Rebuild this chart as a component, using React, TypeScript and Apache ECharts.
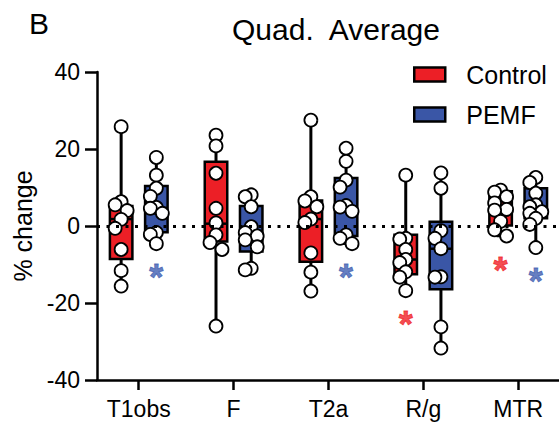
import React, { useEffect, useRef } from 'react';
import * as echarts from 'echarts';

// ---------- data ----------
const categories = ['T1obs', 'F', 'T2a', 'R/g', 'MTR'];
const yTickValues = [-40, -20, 0, 20, 40];

// individual % change values, Control
const controlT1obs = [25.8, 6.3, 5.5, 4.0, 1.7, -0.6, -6.1, -11.6, -15.6];
const controlF = [23.6, 20.8, 13.7, 4.6, 0.8, -2.3, -4.3, -6.1, -26.0];
const controlT2a = [27.5, 7.6, 6.5, 5.0, 1.8, 0.9, -7.0, -12.0, -16.9];
const controlRg = [13.2, -3.2, -3.4, -6.1, -8.7, -9.5, -11.9, -13.3, -16.8];
const controlMTR = [9.3, 8.8, 7.6, 6.0, 4.3, 4.1, 1.2, -1.0, -2.6];

// individual % change values, PEMF
const pemfT1obs = [17.8, 13.2, 9.8, 7.7, 4.8, 4.6, 3.3, -1.7, -2.2, -4.6];
const pemfF = [8.1, 7.6, 5.0, -0.2, -1.7, -2.6, -3.6, -5.4, -11.0, -11.4];
const pemfT2a = [20.2, 16.8, 11.9, 10.1, 5.3, 4.9, 3.8, -2.3, -3.2, -4.6];
const pemfRg = [13.8, 9.8, -1.2, -3.2, -5.9, -13.2, -13.3, -26.2, -31.7];
const pemfMTR = [12.6, 11.3, 8.5, 5.5, 5.0, 3.7, 3.3, 2.0, 0.4, -5.6];

// box summaries (min, Q1, median, Q3, max) per category
const controlMin = [-15.6, -26.0, -16.9, -16.8, -2.6];
const controlQ1 = [-8.6, -4.0, -9.3, -12.5, 0.1];
const controlMedian = [1.8, 0.6, 1.8, -8.7, 4.3];
const controlQ3 = [5.2, 16.7, 6.6, -2.3, 9.0];
const controlMax = [25.8, 23.6, 27.5, 13.2, 9.3];

const pemfMin = [-4.6, -11.4, -4.6, -31.7, -5.6];
const pemfQ1 = [-1.6, -6.6, -2.6, -16.4, 2.0];
const pemfMedian = [4.7, -2.1, 4.4, -5.9, 4.3];
const pemfQ3 = [10.4, 5.2, 12.5, 1.1, 9.8];
const pemfMax = [17.8, 8.1, 20.2, 13.8, 12.6];

// significance markers (*)
const controlSignificant = [false, false, false, true, true];
const pemfSignificant = [true, false, true, false, true];

const controlPoints = [controlT1obs, controlF, controlT2a, controlRg, controlMTR];
const pemfPoints = [pemfT1obs, pemfF, pemfT2a, pemfRg, pemfMTR];

// ---------- layout / style ----------
const W = 559;
const H = 425;
const GRID = { left: 97, right: 0, top: 72, bottom: 45 };
const X_MIN = -0.44;
const X_MAX = 4.43;
const Y_MIN = -40;
const Y_MAX = 40;
const PX_PER_X = (W - GRID.left - GRID.right) / (X_MAX - X_MIN);
const PX_PER_Y = (H - GRID.top - GRID.bottom) / (Y_MAX - Y_MIN);
const GROUP_OFFSET = 17.6 / PX_PER_X;
const BOX_W = 22.5 / PX_PER_X;
const DOT = 13;
const RED = '#ec1f26';
const BLUE = '#3a56a6';
const RED_STAR = '#f01c24';
const BLUE_STAR = '#3d5cb0';
const FONT = '"Liberation Sans", Arial, sans-serif';

function swarm(values: number[], center: number): number[][] {
  const order = values.map((_, i) => i).sort((a, b) => values[b] - values[a]);
  const placed: { x: number; y: number }[] = [];
  const out: number[][] = [];
  const cands = [0, -6, 6];
  for (const idx of order) {
    const y = values[idx] * PX_PER_Y;
    let best = 0;
    let bestD = -1;
    for (const x of cands) {
      let minD = Infinity;
      for (const p of placed) minD = Math.min(minD, Math.hypot(p.x - x, p.y - y));
      if (minD >= 9.5) { best = x; break; }
      if (minD > bestD) { bestD = minD; best = x; }
    }
    placed.push({ x: best, y });
    out.push([center + best / PX_PER_X, values[idx]]);
  }
  return out;
}

function boxSeries(name: string, color: string, offset: number,
  mn: number[], q1: number[], md: number[], q3: number[], mx: number[]) {
  return {
    name,
    type: 'custom',
    z: 2,
    itemStyle: { color },
    encode: { x: 0, y: [1, 2, 3, 4, 5] },
    data: categories.map((_, i) => [i, mn[i], q1[i], md[i], q3[i], mx[i]]),
    renderItem: (params: any, api: any) => {
      const x = api.value(0) + offset;
      const pMin = api.coord([x, api.value(1)]);
      const pQ1 = api.coord([x, api.value(2)]);
      const pMed = api.coord([x, api.value(3)]);
      const pQ3 = api.coord([x, api.value(4)]);
      const pMax = api.coord([x, api.value(5)]);
      const w = api.size([BOX_W, 0])[0];
      const cap = 4;
      return {
        type: 'group',
        children: [
          { type: 'line', shape: { x1: pMin[0], y1: pMin[1], x2: pMax[0], y2: pMax[1] }, style: { stroke: '#000', lineWidth: 3 } },
          { type: 'line', shape: { x1: pMin[0] - cap, y1: pMin[1], x2: pMin[0] + cap, y2: pMin[1] }, style: { stroke: '#000', lineWidth: 2.5 } },
          { type: 'line', shape: { x1: pMax[0] - cap, y1: pMax[1], x2: pMax[0] + cap, y2: pMax[1] }, style: { stroke: '#000', lineWidth: 2.5 } },
          { type: 'rect', shape: { x: pQ3[0] - w / 2, y: pQ3[1], width: w, height: pQ1[1] - pQ3[1] }, style: { fill: color, stroke: '#000', lineWidth: 2.5 } },
          { type: 'line', shape: { x1: pMed[0] - w / 2, y1: pMed[1], x2: pMed[0] + w / 2, y2: pMed[1] }, style: { stroke: '#000', lineWidth: 2.5 } },
        ],
      };
    },
  };
}

function starSeries(name: string, color: string, offset: number, sig: boolean[], mn: number[]) {
  const data: number[][] = [];
  sig.forEach((s, i) => { if (s) data.push([i + offset, mn[i]]); });
  return {
    name,
    type: 'scatter',
    z: 4,
    symbol: 'circle',
    symbolSize: 2,
    itemStyle: { color: 'rgba(0,0,0,0)' },
    data,
    label: {
      show: true,
      position: 'inside',
      formatter: '*',
      offset: [0, 34],
      color,
      textBorderColor: color,
      textBorderWidth: 0.8,
      fontSize: 36,
      fontWeight: 'bold',
      fontFamily: FONT,
    },
  };
}

function dotSeries(name: string, offset: number, pts: number[][]) {
  const data: number[][] = [];
  pts.forEach((vals, i) => { swarm(vals, i + offset).forEach((p) => data.push(p)); });
  return {
    name,
    type: 'scatter',
    z: 3,
    symbol: 'circle',
    symbolSize: DOT,
    itemStyle: { color: '#fff', borderColor: '#000', borderWidth: 1.8, opacity: 1 },
    data,
  };
}

export default function App() {
  const ref = useRef<HTMLDivElement>(null);
  useEffect(() => {
    if (!ref.current) return;
    const chart = echarts.init(ref.current, undefined, { renderer: 'svg' });
    const option: any = {
      animation: false,
      backgroundColor: '#fff',
      textStyle: { fontFamily: FONT },
      title: [
        { text: 'B', left: 24, top: 3, textStyle: { fontSize: 30, fontWeight: 'normal', color: '#000', fontFamily: FONT } },
        { text: 'Quad.  Average', left: 227, top: 9, textStyle: { fontSize: 30, fontWeight: 'normal', color: '#000', fontFamily: FONT } },
      ],
      legend: {
        orient: 'vertical',
        left: 408,
        top: 57,
        itemGap: 15,
        itemWidth: 31,
        itemHeight: 14,
        icon: 'rect',
        data: ['Control', 'PEMF'],
        itemStyle: { borderColor: '#000', borderWidth: 2.5 },
        textStyle: { fontSize: 25, color: '#000', fontFamily: FONT, padding: [0, 0, 0, 16] },
      },
      grid: { ...GRID, containLabel: false },
      xAxis: {
        type: 'value',
        min: X_MIN,
        max: X_MAX,
        splitLine: { show: false },
        axisLine: { onZero: false, lineStyle: { color: '#000', width: 2.5 } },
        axisTick: { show: true, customValues: [0, 1, 2, 3, 4], length: 10, lineStyle: { color: '#000', width: 2.5 } },
        axisLabel: {
          customValues: [0, 1, 2, 3, 4],
          formatter: (v: number) => categories[Math.round(v)] ?? '',
          fontSize: 23,
          color: '#000',
          margin: 17,
          fontFamily: FONT,
        },
      },
      yAxis: {
        type: 'value',
        min: Y_MIN,
        max: Y_MAX,
        interval: 20,
        name: '% change',
        nameLocation: 'middle',
        nameGap: 58,
        nameTextStyle: { fontSize: 25, color: '#000', fontFamily: FONT },
        splitLine: { show: false },
        axisLine: { show: true, onZero: false, lineStyle: { color: '#000', width: 2.5 } },
        axisTick: { show: true, length: 12, lineStyle: { color: '#000', width: 2.5 } },
        axisLabel: {
          fontSize: 23,
          color: '#000',
          margin: 17,
          fontFamily: FONT,
          formatter: (v: number) => (yTickValues.includes(v) ? String(v) : ''),
        },
      },
      series: [
        {
          name: 'zero',
          type: 'line',
          z: 1,
          data: [],
          markLine: {
            silent: true,
            symbol: ['none', 'none'],
            label: { show: false },
            lineStyle: { color: '#000', type: [3, 6.5], width: 3 },
            data: [{ yAxis: 0 }],
          },
        },
        boxSeries('Control', RED, -GROUP_OFFSET, controlMin, controlQ1, controlMedian, controlQ3, controlMax),
        boxSeries('PEMF', BLUE, GROUP_OFFSET, pemfMin, pemfQ1, pemfMedian, pemfQ3, pemfMax),
        dotSeries('Control points', -GROUP_OFFSET, controlPoints),
        dotSeries('PEMF points', GROUP_OFFSET, pemfPoints),
        starSeries('Control sig', RED_STAR, -GROUP_OFFSET, controlSignificant, controlMin),
        starSeries('PEMF sig', BLUE_STAR, GROUP_OFFSET, pemfSignificant, pemfMin),
      ],
    };
    chart.setOption(option);
    return () => chart.dispose();
  }, []);
  return (
    <div
      ref={ref}
      style={{ position: 'fixed', left: 0, top: 0, width: W, height: H, background: '#fff' }}
    />
  );
}
